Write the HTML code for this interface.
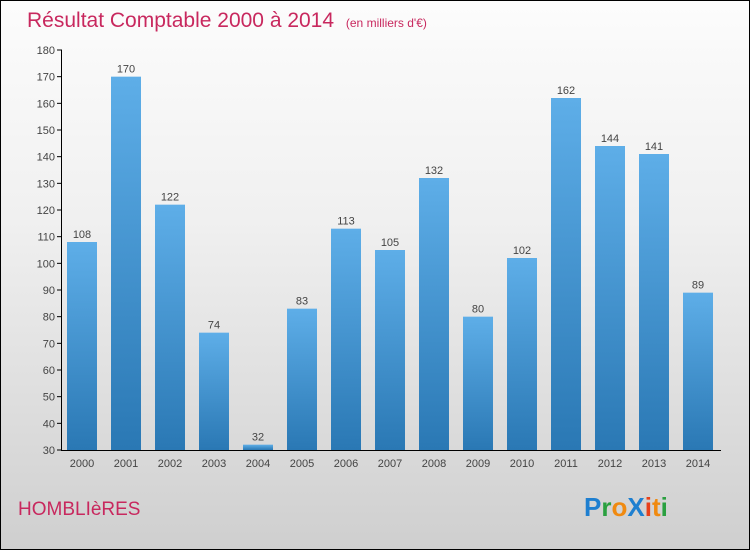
<!DOCTYPE html>
<html><head><meta charset="utf-8"><style>
body{margin:0}
#c{width:748px;height:548px;border:1px solid #000;background:linear-gradient(#fcfcfc,#f0f0f0 40%,#cfcfcf);position:relative;font-family:"Liberation Sans",sans-serif;overflow:hidden}
</style></head><body>
<div id="c">
<svg width="748" height="548" id="s">
<defs><linearGradient id="g" x1="0" y1="0" x2="0" y2="1"><stop offset="0" stop-color="#5eaee8"/><stop offset="1" stop-color="#2a78b4"/></linearGradient></defs>
<text x="26" y="26" font-size="21" fill="#c8285e">Résultat Comptable 2000 à 2014 <tspan font-size="12" dx="6">(en milliers d'€)</tspan></text>
<text x="17" y="514" font-size="19" fill="#c8285e">HOMBLIèRES</text>
<text x="583" y="515" font-size="26" font-weight="bold"><tspan fill="#1e7fd0">P</tspan><tspan fill="#2aa040">r</tspan><tspan fill="#f08a10">o</tspan><tspan fill="#1e7fd0">X</tspan><tspan fill="#e8401a">i</tspan><tspan fill="#f08a10">t</tspan><tspan fill="#2aa040">i</tspan></text>
</svg>
</div>
<script>
const years=["2000","2001","2002","2003","2004","2005","2006","2007","2008","2009","2010","2011","2012","2013","2014"];
const values=[108,170,122,74,32,83,113,105,132,80,102,162,144,141,89];
const yTicks=[30,40,50,60,70,80,90,100,110,120,130,140,150,160,170,180];
const s=document.getElementById('s');
const NS='http://www.w3.org/2000/svg';
const y=v=>449-(v-30)*400/150;
const x=i=>81+i*44;
function el(t,a,txt){const e=document.createElementNS(NS,t);for(const k in a)e.setAttribute(k,a[k]);if(txt!==undefined)e.textContent=txt;s.appendChild(e);return e;}
yTicks.forEach(v=>{
 const t=el('line',{x1:56,x2:61,y1:y(v),y2:y(v),stroke:'#000'});
 
 
 const l=el('text',{x:54,y:y(v)+4,'font-size':11,fill:'#444','text-anchor':'end'},v);
 
 
});
values.forEach((v,i)=>{
 const r=el('rect',{x:x(i)-15,y:y(v),width:30,height:449-y(v),fill:'url(#g)'});
 
 
 const t=el('text',{x:x(i),y:y(v)-4,'font-size':11,fill:'#444','text-anchor':'middle'},v);
 
 
 const xl=el('text',{x:x(i),y:466,'font-size':11,fill:'#444','text-anchor':'middle'},years[i]);
 
 
});
const ya=el('line',{x1:60.5,x2:60.5,y1:y(180),y2:449.5,stroke:'#000'});


const xa=el('line',{x1:60,x2:720,y1:449.5,y2:449.5,stroke:'#000'});


</script>
</body></html>
